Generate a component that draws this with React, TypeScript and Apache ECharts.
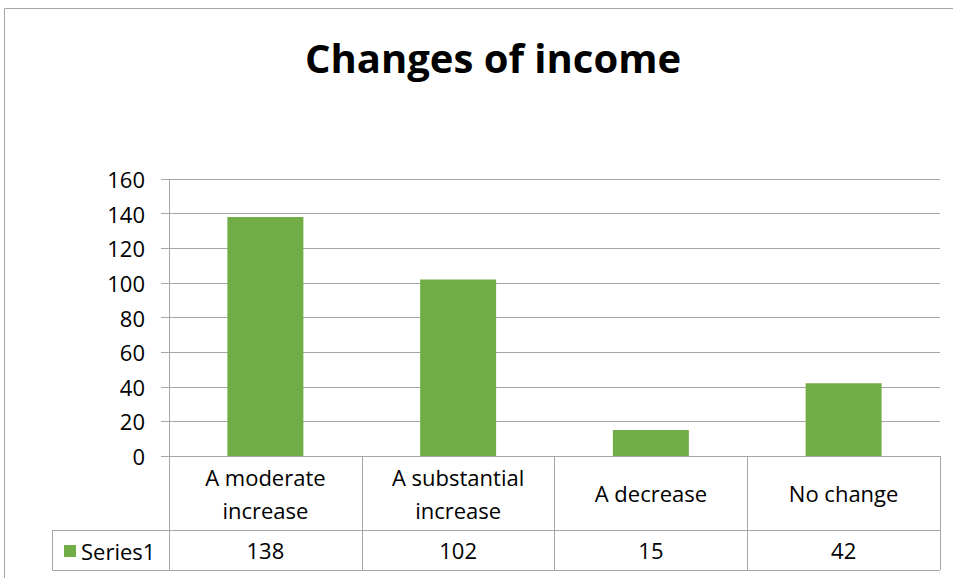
import React, { useEffect, useRef } from "react";
import * as echarts from "echarts";

const categories = ["A moderate\nincrease", "A substantial\nincrease", "A decrease", "No change"];
const seriesName = "Series1";
const values = [138, 102, 15, 42];
const yTicks = { min: 0, max: 160, interval: 20 };

const GRAY = "#a6a6a6";
const FONT = "'Open Sans', 'DejaVu Sans', sans-serif";

export default function App() {
  const ref = useRef<HTMLDivElement>(null);
  useEffect(() => {
    if (!ref.current) return;
    const chart = echarts.init(ref.current, undefined, { renderer: "svg" });
    chart.setOption({
      animation: false,
      backgroundColor: "#ffffff",
      textStyle: { fontFamily: FONT },
      title: {
        text: "Changes of income",
        left: 488,
        textAlign: "center",
        top: 32,
        textStyle: { fontFamily: FONT, fontWeight: "bold", fontSize: 40, color: "#000" },
      },
      legend: {
        data: [seriesName],
        left: 59,
        top: 535,
        icon: "rect",
        itemWidth: 12,
        itemHeight: 12,
        itemGap: 4,
        textStyle: { fontFamily: FONT, fontSize: 22, color: "#000", padding: [0, 0, 0, 0] },
      },
      grid: { left: 169, right: 13, top: 179, bottom: 122, containLabel: false },
      xAxis: [
        {
          type: "category",
          data: categories,
          axisLine: { show: true, lineStyle: { color: GRAY, width: 1 } },
          axisTick: { show: true, length: 114, lineStyle: { color: GRAY, width: 1 } },
          axisLabel: {
            interval: 0,
            margin: 37,
            verticalAlign: "middle",
            lineHeight: 33,
            fontFamily: FONT,
            fontSize: 22,
            color: "#000",
          },
        },
        {
          type: "category",
          position: "bottom",
          data: values.map(String),
          axisLine: { show: false },
          axisTick: { show: false },
          axisLabel: {
            interval: 0,
            margin: 94,
            verticalAlign: "middle",
            fontFamily: FONT,
            fontSize: 22,
            color: "#000",
          },
        },
      ],
      yAxis: {
        type: "value",
        min: yTicks.min,
        max: yTicks.max,
        interval: yTicks.interval,
        axisLine: { show: true, lineStyle: { color: GRAY, width: 1 } },
        axisTick: { show: true, length: 8, lineStyle: { color: GRAY, width: 1 } },
        splitLine: { show: true, lineStyle: { color: GRAY, width: 1 } },
        axisLabel: { margin: 24, fontFamily: FONT, fontSize: 22, color: "#000" },
      },
      series: [
        {
          name: seriesName,
          type: "bar",
          data: values,
          barWidth: 76,
          itemStyle: { color: "#70ad47" },
        },
      ],
      graphic: [
        {
          type: "rect",
          shape: { x: 4.5, y: 8.5, width: 1000, height: 700 },
          style: { fill: "none", stroke: GRAY, lineWidth: 1 },
          silent: true,
          z: -1,
        },
        {
          type: "line",
          shape: { x1: 52, y1: 530.5, x2: 940, y2: 530.5 },
          style: { stroke: GRAY, lineWidth: 1 },
        },
        {
          type: "line",
          shape: { x1: 52, y1: 570.5, x2: 940, y2: 570.5 },
          style: { stroke: GRAY, lineWidth: 1 },
        },
        {
          type: "line",
          shape: { x1: 52.5, y1: 530, x2: 52.5, y2: 571 },
          style: { stroke: GRAY, lineWidth: 1 },
        },
      ],
    });
    return () => chart.dispose();
  }, []);
  return (
    <div
      ref={ref}
      style={{ position: "fixed", left: 0, top: 0, width: 953, height: 578, background: "#fff" }}
    />
  );
}
